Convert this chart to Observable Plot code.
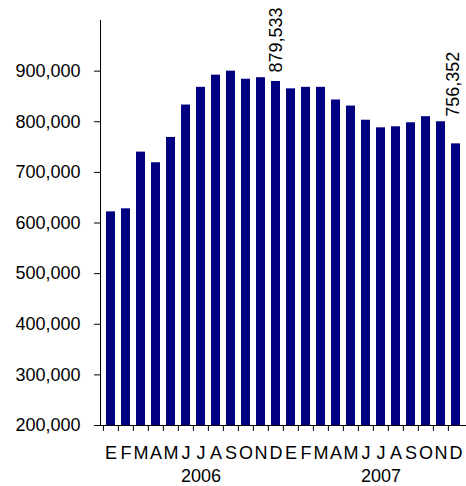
<!DOCTYPE html>
<html>
<head>
<meta charset="utf-8">
<script src="https://cdn.jsdelivr.net/npm/d3@7"></script>
<script src="https://cdn.jsdelivr.net/npm/@observablehq/plot@0.6"></script>
<style>
  html, body { margin: 0; padding: 0; background: #fff; }
</style>
</head>
<body>
<div id="chart"></div>
<script>
const months = ["E","F","M","A","M","J","J","A","S","O","N","D"];
const years = ["2006","2007"];
const values2006 = [622000, 628000, 740000, 719000, 769000, 833000, 868000, 892000, 900000, 884000, 887000, 879533];
const values2007 = [865000, 868000, 868000, 843000, 831000, 803000, 788000, 790000, 798000, 810000, 800000, 756352];
const yTicks = [200000, 300000, 400000, 500000, 600000, 700000, 800000, 900000];
const yDomain = [200000, 1000000];

const seriesByYear = {"2006": values2006, "2007": values2007};
const data = years.flatMap(yr => months.map((m, i) => ({key: `${yr}-${i}`, month: m, year: yr, value: seriesByYear[yr][i]})));
const keys = data.map(d => d.key);
const yearRows = years.map(yr => ({year: yr, key: `${yr}-6`}));
const last2006 = data.filter(d => d.key === "2006-11");
const last2007 = data.filter(d => d.key === "2007-11");

const W = 466, H = 486, ML = 100, MR = 0, MT = 20, MB = 61;
const step = (W - ML - MR) / keys.length;
const fmt = d3.format(",");
const font = "'Liberation Sans', Arial, sans-serif";

const chart = Plot.plot({
  width: W, height: H,
  marginLeft: ML, marginRight: MR, marginTop: MT, marginBottom: MB,
  style: {fontFamily: font, fontSize: "18px", color: "#000", background: "#fff"},
  x: {type: "band", domain: keys, paddingInner: 0.4, paddingOuter: 0.2, align: 0.5, axis: null, label: null},
  y: {domain: yDomain, axis: null, label: null},
  marks: [
    Plot.barY(data, {x: "key", y1: yDomain[0], y2: "value", fill: "#000080"}),
    Plot.frame({anchor: "left", stroke: "#000"}),
    Plot.ruleY([yDomain[0]], {stroke: "#000"}),
    Plot.axisY({ticks: yTicks, tickSize: 6, tickPadding: 14, tickFormat: fmt, fontSize: 18, stroke: "#000", fill: "#000", label: null}),
    Plot.axisX({ticks: keys, tickSize: 6, tickFormat: () => "", dx: -step / 2, stroke: "#000", label: null}),
    Plot.text(data, {x: "key", text: "month", frameAnchor: "bottom", lineAnchor: "top", dy: 21, fontSize: 18, fill: "#000"}),
    Plot.text(yearRows, {x: "key", text: "year", frameAnchor: "bottom", lineAnchor: "top", dy: 44, fontSize: 18, fill: "#000"}),
    Plot.text(last2006, {x: "key", y: "value", text: d => fmt(d.value), rotate: -90, textAnchor: "start", dy: -9, fontSize: 18, fill: "#000"}),
    Plot.text(last2007, {x: "key", y: "value", text: d => fmt(d.value), rotate: -90, textAnchor: "start", dy: -27, dx: -3, fontSize: 18, fill: "#000"})
  ]
});
document.getElementById("chart").appendChild(chart);
</script>
</body>
</html>
